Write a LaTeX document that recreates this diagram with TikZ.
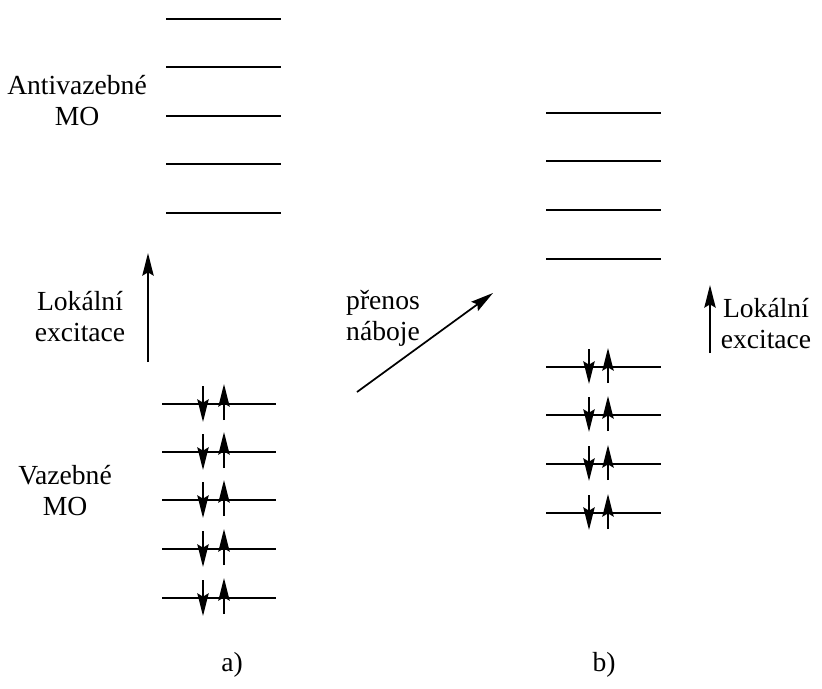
\documentclass[tikz,border=0pt]{standalone}
\usepackage{fontspec}
\setmainfont{Liberation Serif}
\usetikzlibrary{arrows.meta}
\begin{document}
\begin{tikzpicture}[x=0.75pt,y=-0.75pt,
  tip/.style={-{Stealth[length=17pt,width=8.5pt,inset=2.5pt]}},
  level/.style={line width=1.5pt},
  spin/.style={line width=1.4pt,tip},
  exc/.style={line width=1.5pt,tip},
  lbl/.style={align=center,font=\fontsize{20.7}{23.3}\selectfont,inner sep=0pt}]
\useasboundingbox (0,0) rectangle (822,689);
% a) antibonding levels
\foreach \y in {19,67,116,164,213} \draw[level] (166,\y) -- (281,\y);
% a) bonding levels with spin pairs
\foreach \y in {404,452,500,549,598} {
  \draw[level] (162,\y) -- (276,\y);
  \draw[spin] (203,\y-18) -- (203,\y+18);
  \draw[spin] (224,\y+16) -- (224,\y-20);
}
% b) antibonding levels
\foreach \y in {113,161,210,259} \draw[level] (546,\y) -- (661,\y);
% b) bonding levels
\foreach \y in {367,415,464,513} {
  \draw[level] (546,\y) -- (661,\y);
  \draw[spin] (589,\y-18) -- (589,\y+17);
  \draw[spin] (608,\y+16) -- (608,\y-19);
}
% labels
\node[lbl] (anti) at (77,101) {Antivazebné\\MO};
\node[lbl] (vaz) at (65,491) {Vazebné\\MO};
\node[lbl] (loka) at (80,317) {Lokální\\excitace};
\node[lbl] (lokb) at (766,324) {Lokální\\excitace};
\node[lbl] (pren) at (383,318) {přenos\\náboje};
\node[lbl] (la) at (232,665) {a)};
\node[lbl] (lb) at (604,665) {b)};
% excitation arrows
\coordinate (ea1) at (148,362); \coordinate (ea2) at (148,253);
\draw[exc] (ea1) -- (ea2);
\coordinate (eb1) at (710,353); \coordinate (eb2) at (710,285);
\draw[exc] (eb1) -- (eb2);
\coordinate (ct1) at (357,392); \coordinate (ct2) at (493,293);
\draw[line width=1.3pt,tip] (ct1) -- (ct2);
\end{tikzpicture}
\end{document}
